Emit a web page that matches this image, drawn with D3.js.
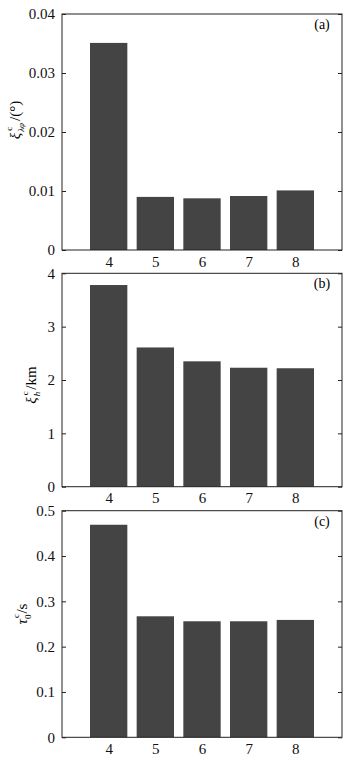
<!DOCTYPE html>
<html>
<head>
<meta charset="utf-8">
<script src="https://cdn.jsdelivr.net/npm/d3@7"></script>
<style>
  body { margin: 0; background: #fff; }
  svg text { font-family: "Liberation Serif", "Times New Roman", serif; }
</style>
</head>
<body>
<svg id="chart" width="357" height="763"></svg>
<script>
// data
var categories = [4, 5, 6, 7, 8];
var valuesA = [0.0351, 0.0090, 0.00876, 0.00915, 0.0101];
var valuesB = [3.78, 2.61, 2.35, 2.23, 2.22];
var valuesC = [0.469, 0.267, 0.256, 0.256, 0.259];
var ticksA = [0, 0.01, 0.02, 0.03, 0.04];
var ticksB = [0, 1, 2, 3, 4];
var ticksC = [0, 0.1, 0.2, 0.3, 0.4, 0.5];

var svg = d3.select("svg#chart");

var panels = [
  { values: valuesA, ticks: ticksA, max: 0.04, top: 14, bottom: 250, tag: "(a)", fmt: function(d){ return d === 0 ? "0" : d.toFixed(2); } },
  { values: valuesB, ticks: ticksB, max: 4, top: 273.3, bottom: 486.7, tag: "(b)", fmt: function(d){ return d; } },
  { values: valuesC, ticks: ticksC, max: 0.5, top: 510.7, bottom: 737.3, tag: "(c)", fmt: function(d){ return d === 0 ? "0" : d.toFixed(1); } }
];

var left = 62, right = 342;

var xScale = d3.scaleLinear().domain([3, 9]).range([left, right]);
var step = xScale(4) - xScale(3);
var barW = step * 0.8;

panels.forEach(function(p, i) {
  var yScale = d3.scaleLinear().domain([0, p.max]).range([p.bottom, p.top]);
  var g = svg.append("g").attr("class", "panel panel" + i);

  g.selectAll("rect.bar")
    .data(p.values)
    .enter()
    .append("rect")
    .attr("class", "bar")
    .attr("x", function(d, j) { return xScale(categories[j]) - barW / 2; })
    .attr("y", function(d) { return yScale(d); })
    .attr("width", barW)
    .attr("height", function(d) { return p.bottom - yScale(d); })
    .style("fill", "#444444");

  // box
  g.append("rect")
    .attr("x", left).attr("y", p.top)
    .attr("width", right - left).attr("height", p.bottom - p.top)
    .style("fill", "none").style("stroke", "#222").style("stroke-width", 1);

  // left axis, ticks inward
  var axL = d3.axisLeft(yScale).tickValues(p.ticks).tickSize(-4).tickPadding(7).tickFormat(p.fmt);
  g.append("g").attr("class", "axis axis--y")
    .attr("transform", "translate(" + left + ",0)")
    .call(axL);

  // right axis ticks
  var axR = d3.axisRight(yScale).tickValues(p.ticks).tickSize(-4).tickFormat("");
  g.append("g").attr("class", "axis axis--r")
    .attr("transform", "translate(" + right + ",0)")
    .call(axR);

  var axB = d3.axisBottom(xScale).tickValues(categories).tickSize(0).tickPadding(6).tickFormat(d3.format("d"));
  g.append("g").attr("class", "axis axis--x")
    .attr("transform", "translate(0," + p.bottom + ")")
    .call(axB);

  g.selectAll(".axis path").remove();
  g.selectAll(".axis .tick line").style("stroke", "#222");
  g.selectAll(".axis text").style("font-size", "15px").style("fill", "#111");

  g.append("text")
    .attr("x", 322).attr("y", p.top + 15)
    .attr("text-anchor", "middle")
    .style("font-size", "14px")
    .text(p.tag);
});

// y axis labels
function yLabel(x, cy, build) {
  var t = svg.append("text")
    .attr("transform", "translate(" + x + "," + cy + ") rotate(-90)")
    .attr("text-anchor", "middle")
    .style("font-size", "15px");
  build(t);
}

yLabel(20, 120, function(t) {
  t.append("tspan").style("font-style", "italic").text("ξ");
  t.append("tspan").attr("dx", 2).attr("dy", -8).style("font-size", "9px").text("c");
  t.append("tspan").attr("dx", -5).attr("dy", 12).style("font-size", "9px").style("font-style", "italic").text("λφ");
  t.append("tspan").attr("dx", 2).attr("dy", -4).text("/(°)");
});

yLabel(36, 385, function(t) {
  t.append("tspan").style("font-style", "italic").text("ξ");
  t.append("tspan").attr("dx", 2).attr("dy", -8).style("font-size", "9px").text("c");
  t.append("tspan").attr("dx", -5).attr("dy", 12).style("font-size", "9px").style("font-style", "italic").text("h");
  t.append("tspan").attr("dx", 2).attr("dy", -4).text("/km");
});

yLabel(27, 614, function(t) {
  t.append("tspan").style("font-style", "italic").text("τ");
  t.append("tspan").attr("dx", 1).attr("dy", -8).style("font-size", "9px").text("c");
  t.append("tspan").attr("dx", -5).attr("dy", 12).style("font-size", "9px").text("0");
  t.append("tspan").attr("dx", 1).attr("dy", -4).text("/s");
});
</script>
</body>
</html>
